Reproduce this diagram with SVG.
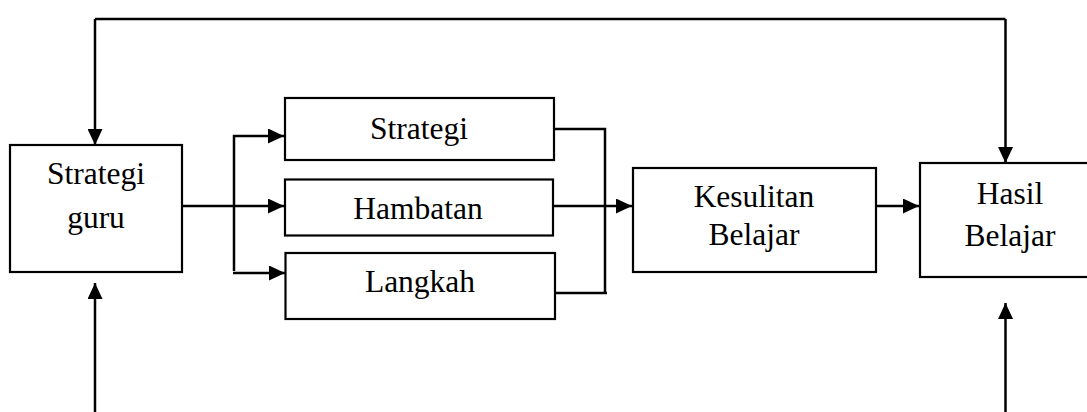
<svg xmlns="http://www.w3.org/2000/svg" width="1087" height="412" viewBox="0 0 1087 412">
<style>
.box{fill:#fff;stroke:#000;stroke-width:2.2}
.ln{fill:none;stroke:#000;stroke-width:2.5}
text{font-family:"Liberation Serif","Times New Roman",serif;font-size:31.5px;fill:#000;text-anchor:middle}
</style>
<defs>
<marker id="ah" viewBox="0 0 16 15" refX="16" refY="7.5" markerWidth="16" markerHeight="15" markerUnits="userSpaceOnUse" orient="auto">
<path d="M0,0 L16,7.5 L0,15 Z" fill="#000"/>
</marker>
</defs>
<rect width="1087" height="412" fill="#fff"/>
<g id="connectors">
<polyline class="ln" points="95,19 1005.5,19"/>
<line class="ln" x1="95" y1="19" x2="95" y2="145" marker-end="url(#ah)"/>
<line class="ln" x1="1005.5" y1="19" x2="1005.5" y2="163" marker-end="url(#ah)"/>
<line class="ln" x1="95" y1="412" x2="95" y2="283" marker-end="url(#ah)"/>
<line class="ln" x1="1005.5" y1="412" x2="1005.5" y2="303" marker-end="url(#ah)"/>
<line class="ln" x1="182" y1="206" x2="284" y2="206" marker-end="url(#ah)"/>
<polyline class="ln" points="234,271 234,136 284,136" marker-end="url(#ah)"/>
<line class="ln" x1="233" y1="273" x2="285" y2="273" marker-end="url(#ah)"/>
<polyline class="ln" points="554,129 605,129 605,293"/>
<line class="ln" x1="555" y1="293" x2="607" y2="293"/>
<line class="ln" x1="553" y1="206" x2="632" y2="206" marker-end="url(#ah)"/>
<line class="ln" x1="876" y1="206" x2="919" y2="206" marker-end="url(#ah)"/>
</g>
<g id="strategi-guru">
<rect class="box" x="10" y="145" width="172" height="127"/>
<text x="96" y="184">Strategi</text>
<text x="96" y="228">guru</text>
</g>
<g id="strategi">
<rect class="box" x="285" y="98" width="269" height="62"/>
<text x="419" y="139">Strategi</text>
</g>
<g id="hambatan">
<rect class="box" x="285" y="179.5" width="268" height="56"/>
<text x="418" y="219">Hambatan</text>
</g>
<g id="langkah">
<rect class="box" x="285.5" y="253" width="269.5" height="66"/>
<text x="420" y="292">Langkah</text>
</g>
<g id="kesulitan-belajar">
<rect class="box" x="633" y="168" width="243" height="104"/>
<text x="754" y="207">Kesulitan</text>
<text x="754" y="245">Belajar</text>
</g>
<g id="hasil-belajar">
<rect class="box" x="920" y="163" width="180" height="114"/>
<text x="1010" y="204">Hasil</text>
<text x="1010" y="246">Belajar</text>
</g>
</svg>
